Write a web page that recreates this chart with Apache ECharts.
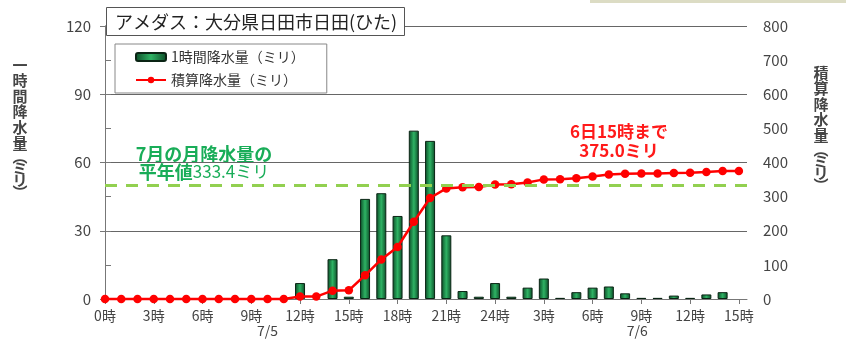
<!DOCTYPE html>
<html>
<head>
<meta charset="utf-8">
<script src="https://cdn.jsdelivr.net/npm/echarts@6/dist/echarts.min.js"></script>
<style>
  html, body { margin: 0; padding: 0; background: #fff; }
  #chart { width: 846px; height: 340px; }
</style>
</head>
<body>
<div id="chart"></div>
<script>
// Hourly rainfall at Hita (Oita), from 5 July 0h to 6 July 15h
const hourlyRain = [
  0, 0, 0, 0, 0, 0, 0, 0, 0, 0, 0, 0,
  7, 0, 17.5, 1, 44, 46.5, 36.5, 74, 69.5, 28, 3.5, 1,
  7, 1, 5, 9, 0.5, 3, 5, 5.5, 2.5, 0.5, 0.5, 1.5, 0.5, 2, 3, 0
];
// Accumulated rainfall over the same hours
const totalRain = [
  0, 0, 0, 0, 0, 0, 0, 0, 0, 0, 0, 0,
  7, 7, 24.5, 25.5, 69.5, 116, 152.5, 226.5, 296, 324, 327.5, 328.5,
  335.5, 336.5, 341.5, 350.5, 351, 354, 359, 364.5, 367, 367.5, 368, 369.5, 370, 372, 375, 375
];
// Labels every three hours along the time axis
const hourTickLabels = ['0時', '3時', '6時', '9時', '12時', '15時', '18時', '21時',
                        '24時', '3時', '6時', '9時', '12時', '15時'];
const hourTickStep = 3;
// Date captions under the time axis (position in hours from the start)
const dateHours = [10, 32.75];
const dateLabels = ['7/5', '7/6'];
// July normal monthly rainfall (mm)
const julyNormal = 333.4;

const FONT = '"Noto Sans CJK JP", "Noto Sans", sans-serif';
const tickValues = hourTickLabels.map((_, i) => i * hourTickStep);

// Vertical axis titles: kanji get a taller line than the kana and brackets
function verticalTitle(str) {
  return str.split('').map(ch => (/[\u4e00-\u9fff]/.test(ch) ? '{k|' : '{p|') + ch + '}').join('\n');
}
const verticalRich = {
  k: { fontFamily: FONT, fontSize: 15, fontWeight: 'bold', fill: '#454545', lineHeight: 15.6, align: 'center' },
  p: { fontFamily: FONT, fontSize: 15, fontWeight: 'bold', fill: '#454545', lineHeight: 12, align: 'center' }
};

const barFill = new echarts.graphic.LinearGradient(0, 0, 1, 0, [
  { offset: 0, color: '#0b4a26' },
  { offset: 0.5, color: '#2eb364' },
  { offset: 1, color: '#0b4a26' }
]);

const chart = echarts.init(document.getElementById('chart'), null, { renderer: 'canvas' });

chart.setOption({
  animation: false,
  backgroundColor: '#ffffff',
  textStyle: { fontFamily: FONT },
  title: {
    text: 'アメダス：大分県日田市日田(ひた)',
    left: 106,
    top: 7,
    padding: [6, 8, 5, 9],
    borderColor: '#555',
    borderWidth: 1,
    backgroundColor: '#ffffff',
    textStyle: { fontFamily: FONT, fontSize: 18, fontWeight: 'normal', color: '#222' }
  },
  legend: {
    orient: 'vertical',
    left: 115,
    top: 44,
    padding: [6, 22, 6, 20],
    itemGap: 9,
    itemWidth: 30,
    itemHeight: 8,
    borderColor: '#888',
    borderWidth: 1,
    backgroundColor: '#ffffff',
    textStyle: { fontFamily: FONT, fontSize: 14, color: '#333' },
    data: ['1時間降水量（ミリ）', '積算降水量（ミリ）']
  },
  grid: { left: 105, right: 99, top: 26, bottom: 41 },
  xAxis: [
    {
      type: 'value',
      min: 0,
      max: 39.5,
      interval: hourTickStep,
      splitLine: { show: false },
      axisLine: { lineStyle: { color: '#777', width: 1 } },
      axisTick: { show: true, length: 5, lineStyle: { color: '#777' }, customValues: tickValues },
      axisLabel: {
        customValues: tickValues,
        margin: 10,
        fontFamily: FONT,
        fontSize: 14,
        color: '#444',
        formatter: v => hourTickLabels[Math.round(v / hourTickStep)] || ''
      }
    },
    {
      type: 'value',
      position: 'bottom',
      min: 0,
      max: 39.5,
      splitLine: { show: false },
      axisLine: { show: false },
      axisTick: { show: false },
      axisLabel: {
        customValues: dateHours,
        margin: 25,
        fontFamily: FONT,
        fontSize: 14,
        color: '#444',
        formatter: v => dateLabels[dateHours.indexOf(v)] || ''
      }
    }
  ],
  yAxis: [
    {
      type: 'value',
      min: 0,
      max: 120,
      interval: 30,
      axisLine: { show: true, lineStyle: { color: '#777' } },
      axisTick: { show: true, length: 5, lineStyle: { color: '#777' } },
      axisLabel: { margin: 14, fontFamily: FONT, fontSize: 15, color: '#444' },
      splitLine: { show: true, lineStyle: { color: '#666', width: 1 } }
    },
    {
      type: 'value',
      min: 0,
      max: 800,
      interval: 100,
      axisLine: { show: true, lineStyle: { color: '#777' } },
      axisTick: { show: true, length: 6, lineStyle: { color: '#777' } },
      axisLabel: { margin: 16, fontFamily: FONT, fontSize: 15, color: '#444' },
      splitLine: { show: false }
    }
  ],
  series: [
    {
      name: '1時間降水量（ミリ）',
      type: 'bar',
      xAxisIndex: 0,
      yAxisIndex: 0,
      barWidth: 10,
      itemStyle: { color: barFill, borderColor: '#0a2414', borderWidth: 1 },
      // hours without rain draw no bar outline
      data: hourlyRain.map((v, h) => [h, v === 0 ? null : v]),
      z: 2
    },
    {
      name: '積算降水量（ミリ）',
      type: 'line',
      xAxisIndex: 0,
      yAxisIndex: 1,
      clip: false,
      symbol: 'circle',
      symbolSize: 8.5,
      lineStyle: { color: '#ff0000', width: 2.5 },
      itemStyle: { color: '#ff0000' },
      data: totalRain.map((v, h) => [h, v]),
      markLine: {
        silent: true,
        symbol: ['none', 'none'],
        label: { show: false },
        lineStyle: { color: '#92d050', type: [12, 9], width: 3 },
        data: [{ yAxis: julyNormal }]
      },
      z: 4
    }
  ],
  graphic: [
    {
      type: 'rect',
      left: 590, top: 0,
      shape: { width: 256, height: 3 },
      style: { fill: '#dcdcc4' }
    },
    {
      type: 'text',
      x: 20, y: 57,
      style: { text: verticalTitle('一時間降水量︵ミリ︶'), rich: verticalRich, align: 'center' }
    },
    {
      type: 'text',
      x: 821, y: 65,
      style: { text: verticalTitle('積算降水量︵ミリ︶'), rich: verticalRich, align: 'center' }
    },
    {
      type: 'text',
      x: 204, y: 145,
      style: {
        text: '{a|7月の月降水量の}\n{a|平年値}{b|' + julyNormal.toFixed(1) + 'ミリ}',
        align: 'center',
        rich: {
          a: { fontFamily: FONT, fontSize: 18, fontWeight: 'bold', fill: '#19ad58', lineHeight: 18 },
          b: { fontFamily: FONT, fontSize: 17, fontWeight: 'normal', fill: '#19ad58', lineHeight: 18 }
        }
      }
    },
    {
      type: 'text',
      x: 619, y: 122,
      style: {
        text: '6日15時まで\n' + totalRain[totalRain.length - 1].toFixed(1) + 'ミリ',
        fontFamily: FONT, fontSize: 17, fontWeight: 'bold', lineHeight: 19,
        fill: '#ff1a1a', align: 'center'
      }
    }
  ]
});
</script>
</body>
</html>
